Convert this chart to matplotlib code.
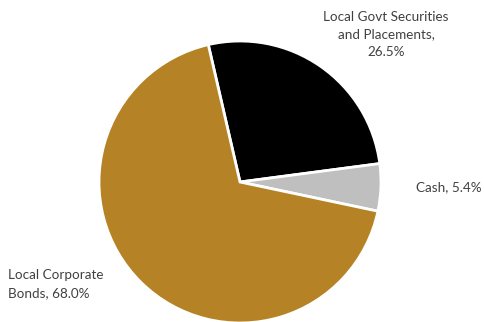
import matplotlib
matplotlib.use("Agg")
import matplotlib.pyplot as plt

categories = ["Local Govt Securities\nand Placements", "Cash", "Local Corporate\nBonds"]
values = [26.5, 5.4, 68.0]
colors = ["#000000", "#BFBFBF", "#B58325"]

W, H = 485, 322
fig = plt.figure(figsize=(W / 100, H / 100), dpi=100)
ax = fig.add_axes([0, 0, 1, 1])

ax.pie(values, colors=colors, startangle=103, counterclock=False,
       center=(240, H - 182), radius=141, frame=True,
       wedgeprops=dict(edgecolor="white", linewidth=2))
ax.set_xlim(0, W)
ax.set_ylim(0, H)
ax.set_aspect("equal")
ax.axis("off")

labels = [f"{c}, {v:.1f}%" for c, v in zip(categories, values)]
labels[0] = "Local Govt Securities\nand Placements,\n26.5%"
txt = dict(fontsize=9.7, color="#404040", family=["Lato", "DejaVu Sans"], linespacing=1.55)
ax.text(386, H - 34, labels[0], ha="center", va="center", **txt)
ax.text(449, H - 187, labels[1], ha="center", va="center", **txt)
ax.text(8, H - 284, labels[2], ha="left", va="center", **txt)

fig.savefig("out.png", dpi=100)
